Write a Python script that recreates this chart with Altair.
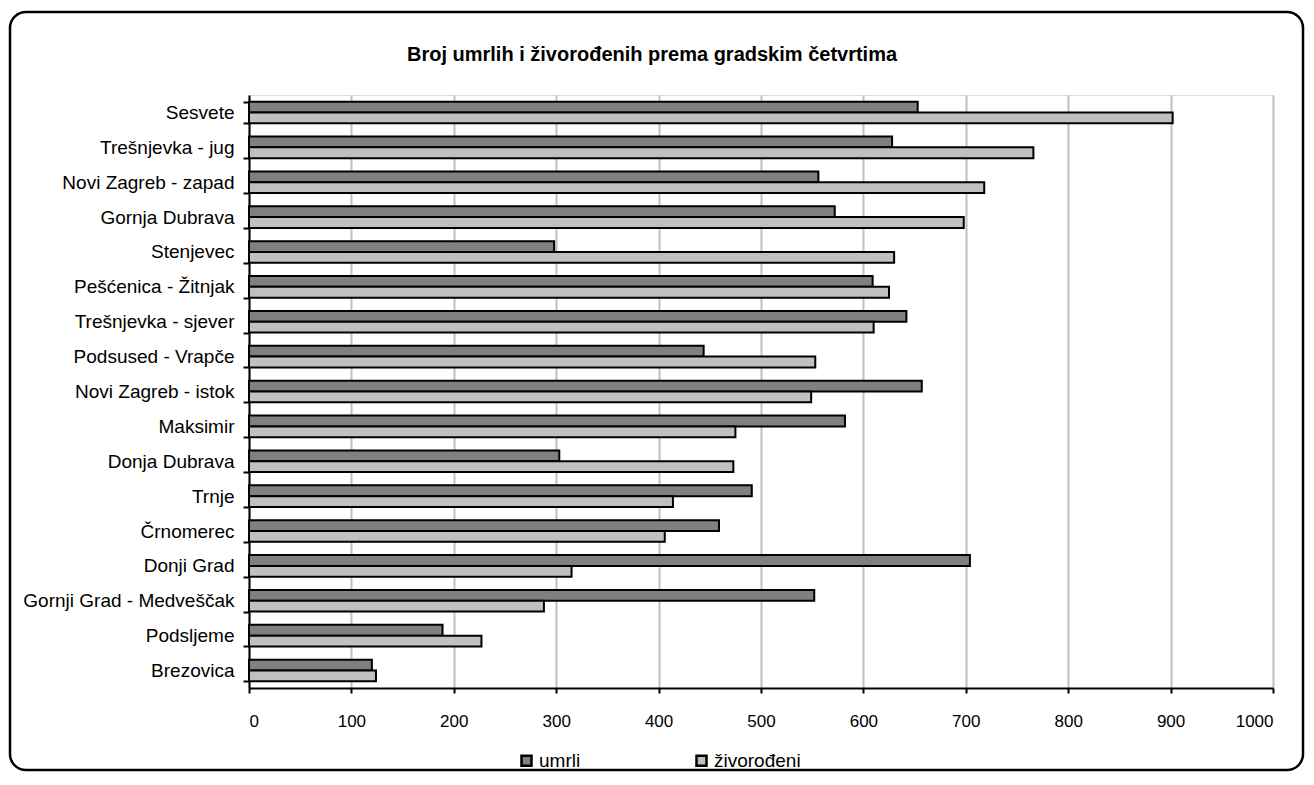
import altair as alt
import pandas as pd

categories = ["Sesvete", "Trešnjevka - jug", "Novi Zagreb - zapad", "Gornja Dubrava",
              "Stenjevec", "Pešćenica - Žitnjak", "Trešnjevka - sjever", "Podsused - Vrapče",
              "Novi Zagreb - istok", "Maksimir", "Donja Dubrava", "Trnje", "Črnomerec",
              "Donji Grad", "Gornji Grad - Medveščak", "Podsljeme", "Brezovica"]
umrli = [653, 628, 556, 572, 298, 609, 642, 444, 657, 582, 303, 491, 459, 704, 552, 189, 120]
zivorodeni = [902, 766, 718, 698, 630, 625, 610, 553, 549, 475, 473, 414, 406, 315, 288, 227, 124]
series = ["umrli", "živorođeni"]
x_ticks = [0, 100, 200, 300, 400, 500, 600, 700, 800, 900, 1000]
title_text = "Broj umrlih i živorođenih prema gradskim četvrtima"

rows = []
for c, u, z in zip(categories, umrli, zivorodeni):
    rows.append({"cetvrt": c, "serija": series[0], "broj": u})
    rows.append({"cetvrt": c, "serija": series[1], "broj": z})
df = pd.DataFrame(rows)

FONT = "Liberation Sans"

bars = alt.Chart(df).mark_bar(stroke="black", strokeWidth=2).encode(
    y=alt.Y("cetvrt:N", sort=categories, title=None,
            scale=alt.Scale(paddingInner=0.38, paddingOuter=0.19),
            axis=alt.Axis(domainColor="black", domainWidth=2, tickColor="black",
                          tickWidth=2, tickSize=6, tickBand="extent", grid=False,
                          labelFont=FONT, labelFontSize=19, labelColor="black",
                          labelPadding=9, labelLimit=400)),
    yOffset=alt.YOffset("serija:N", sort=series,
                        scale=alt.Scale(paddingInner=0, paddingOuter=0)),
    x=alt.X("broj:Q", title=None,
            scale=alt.Scale(domain=[0, 1000], nice=False),
            axis=alt.Axis(values=x_ticks, format="d", domainColor="black", domainWidth=2,
                          tickColor="black", tickWidth=2, tickSize=5,
                          gridColor="#C0C0C0", gridWidth=2,
                          labelFont=FONT, labelFontSize=17, labelColor="black",
                          labelPadding=20)),
    color=alt.Color("serija:N", sort=series,
                    scale=alt.Scale(domain=series, range=["#808080", "#C0C0C0"]),
                    legend=alt.Legend(title=None, orient="none", direction="horizontal",
                                      legendX=268, legendY=656,
                                      symbolType="square", symbolSize=100,
                                      symbolStrokeColor="black", symbolStrokeWidth=2.5,
                                      symbolOpacity=1,
                                      labelFont=FONT, labelFontSize=19, labelColor="black",
                                      labelOffset=3, columnPadding=110)),
)

title = alt.Chart(alt.Data(values=[{"t": title_text}])).mark_text(
    font=FONT, fontSize=20, fontWeight="bold", color="black",
    align="center", baseline="middle"
).encode(text="t:N", x=alt.value(403), y=alt.value(-40))

border = alt.Chart(alt.Data(values=[{}])).mark_rect(
    filled=False, stroke="black", strokeWidth=2.5, cornerRadius=16
).encode(
    x=alt.value(-239), x2=alt.value(1054), y=alt.value(-83), y2=alt.value(675)
)

chart = alt.layer(bars, title, border).properties(
    width=1024, height=593,
    autosize=alt.AutoSizeParams(type="none"),
    padding={"left": 241, "top": 87, "right": 33, "bottom": 84},
).configure_view(stroke="#C0C0C0", strokeWidth=2).configure(background="white")

chart.save("out.html", embed_options={"renderer": "svg", "actions": False})
